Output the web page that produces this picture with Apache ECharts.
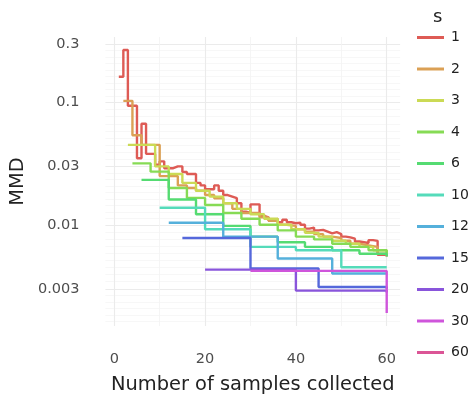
<!DOCTYPE html>
<html>
<head>
<meta charset="utf-8">
<script src="https://cdn.jsdelivr.net/npm/echarts@6/dist/echarts.min.js"></script>
<style>
html, body { margin: 0; padding: 0; background: #fff; }
#chart { width: 473px; height: 399px; }
</style>
</head>
<body>
<div id="chart"></div>
<script>
// legend levels (s) and one MMD array per level, value at x = s, 2s, ... 60
var sLevels = ['1', '2', '3', '4', '6', '10', '12', '15', '20', '30', '60'];

var mmd_s1 = [0.162, 0.268, 0.094, 0.094, 0.035, 0.067, 0.038, 0.038, 0.031, 0.033,
    0.029, 0.029, 0.030, 0.030, 0.027, 0.026, 0.026, 0.022, 0.021, 0.0195,
    0.0195, 0.021, 0.019, 0.0175, 0.017, 0.0165, 0.0150, 0.0128, 0.0125, 0.0147,
    0.0147, 0.0118, 0.0115, 0.0108, 0.0112, 0.0105, 0.0110, 0.0105, 0.0103, 0.0104,
    0.0100, 0.0093, 0.0095, 0.0090, 0.0091, 0.0088, 0.0085, 0.0087, 0.0084, 0.0080,
    0.0079, 0.0077, 0.0073, 0.0072, 0.0071, 0.0075, 0.0074, 0.0057, 0.0057, 0.0055];
var mmd_s2 = [0.103, 0.054, 0.045, 0.045, 0.025, 0.025, 0.021, 0.020, 0.019, 0.0175,
    0.0165, 0.0150, 0.0135, 0.0125, 0.0125, 0.0115, 0.0108, 0.0100, 0.0098, 0.0092,
    0.0088, 0.0084, 0.0080, 0.0078, 0.0074, 0.0070, 0.0068, 0.0066, 0.0058, 0.0056];
var mmd_s3 = [0.045, 0.045, 0.030, 0.026, 0.022, 0.019, 0.017, 0.015, 0.0135, 0.0122,
    0.0112, 0.0100, 0.0092, 0.0086, 0.0080, 0.0074, 0.0070, 0.0066, 0.0062, 0.0058];
var mmd_s4 = [0.0318, 0.0272, 0.020, 0.0166, 0.0145, 0.0125, 0.0112, 0.0100, 0.0090, 0.0080,
    0.0076, 0.0070, 0.0066, 0.0062, 0.0058];
var mmd_s6 = [0.0233, 0.0161, 0.0122, 0.0098, 0.0080, 0.0072, 0.0066, 0.0062, 0.0058, 0.0055];
var mmd_s10 = [0.0138, 0.0092, 0.0066, 0.0062, 0.0045, 0.0045];
var mmd_s12 = [0.0104, 0.0080, 0.0053, 0.0040, 0.0040];
var mmd_s15 = [0.0078, 0.0044, 0.0031, 0.0030];
var mmd_s20 = [0.0043, 0.0029, 0.0028];
var mmd_s30 = [0.0042, 0.0019];
var mmd_s60 = [0.0045];

var yTicks = [0.003, 0.01, 0.03, 0.1, 0.3];
var xTicks = [0, 20, 40, 60];
var xMinorTicks = [10, 30, 50];

var colors = ['#DE5B55', '#DBA055', '#CBDA55', '#86DB55', '#55DB72', '#55DBBA',
    '#55B0DB', '#5568DB', '#8955DB', '#CF55DB', '#DB5596'];

var allValues = [mmd_s1, mmd_s2, mmd_s3, mmd_s4, mmd_s6, mmd_s10, mmd_s12, mmd_s15, mmd_s20, mmd_s30, mmd_s60];

var yMin = 0.00149, yMax = 0.3425;

// faint log-spaced lines between the labelled breaks
var minorY = [];
var ext = [0.001].concat(yTicks, [1]);
for (var i = 0; i < ext.length - 1; i++) {
    var a = Math.log10(ext[i]), b = Math.log10(ext[i + 1]);
    for (var k = 1; k < 9; k++) {
        var v = a + (b - a) * k / 9;
        if (v > Math.log10(yMin) && v < Math.log10(yMax)) minorY.push(v);
    }
}

var series = sLevels.map(function (s, idx) {
    var step = +s;
    return {
        name: s,
        type: 'line',
        step: 'end',
        showSymbol: false,
        symbol: 'none',
        data: allValues[idx].map(function (v, i) { return [(i + 1) * step, v]; }),
        lineStyle: { width: 2.4, color: colors[idx] },
        itemStyle: { color: colors[idx] }
    };
});

var font = 'DejaVu Sans';
var chart = echarts.init(document.getElementById('chart'));
chart.setOption({
    animation: false,
    color: colors,
    grid: { left: 105.4, right: 72.9, top: 37, bottom: 69 },
    title: {
        text: 's', left: 428, top: 3,
        textStyle: { fontFamily: font, fontSize: 18, fontWeight: 'normal', color: '#222' }
    },
    legend: {
        orient: 'vertical', left: 417, top: 30.5, padding: 0,
        icon: 'rect', itemWidth: 27, itemHeight: 3, itemGap: 17.5,
        data: sLevels,
        textStyle: { fontFamily: font, fontSize: 14, color: '#222', lineHeight: 14, padding: [0, 0, 0, 2] }
    },
    xAxis: [{
        type: 'value', min: -1.95, max: 62.95,
        name: 'Number of samples collected', nameLocation: 'middle', nameGap: 49,
        nameTextStyle: { fontFamily: font, fontSize: 19.4, color: '#222' },
        axisLine: { show: false },
        axisTick: { show: false, customValues: xTicks },
        axisLabel: { customValues: xTicks, margin: 26, fontFamily: font, fontSize: 14.5, color: '#4d4d4d' },
        splitLine: { show: true, lineStyle: { color: '#ebebeb', width: 1.1 } }
    }, {
        type: 'value', min: -1.95, max: 62.95, position: 'bottom',
        axisLine: { show: false },
        axisTick: { show: false, customValues: xMinorTicks },
        axisLabel: { show: false },
        splitLine: { show: true, lineStyle: { color: '#f2f2f2', width: 0.8 } }
    }],
    yAxis: [{
        type: 'log', logBase: 10, min: yMin, max: yMax,
        name: 'MMD', nameLocation: 'middle', nameGap: 78,
        nameTextStyle: { fontFamily: font, fontSize: 19.4, color: '#222' },
        axisLine: { show: false },
        axisTick: { show: false, customValues: yTicks },
        axisLabel: {
            customValues: yTicks, margin: 26, fontFamily: font, fontSize: 14.5, color: '#4d4d4d',
            formatter: function (v) { return String(parseFloat((+v).toPrecision(1))); }
        },
        splitLine: { show: true, lineStyle: { color: '#ebebeb', width: 1.1 } }
    }, {
        type: 'value', min: Math.log10(yMin), max: Math.log10(yMax),
        axisLine: { show: false },
        axisTick: { show: false, customValues: minorY },
        axisLabel: { show: false },
        splitLine: { show: true, lineStyle: { color: '#f4f4f4', width: 0.7 } }
    }],
    series: series
});
</script>
</body>
</html>
